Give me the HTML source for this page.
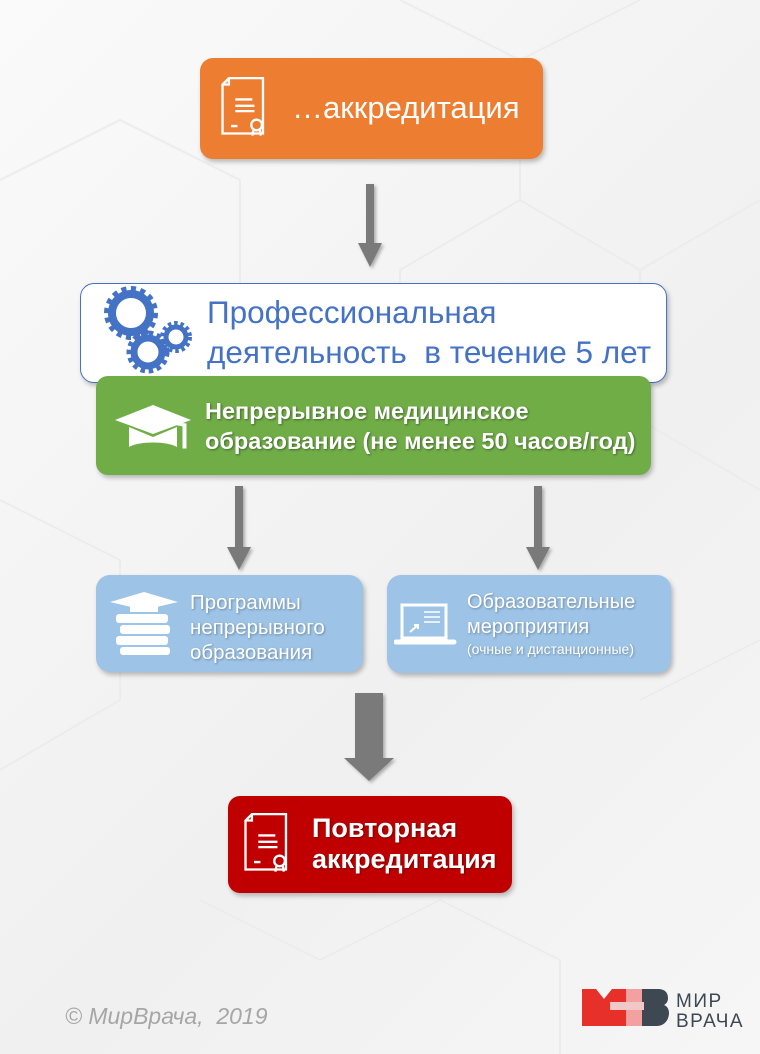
<!DOCTYPE html>
<html><head><meta charset="utf-8"><style>
html,body{margin:0;padding:0}
body{width:760px;height:1054px;position:relative;overflow:hidden;background:linear-gradient(135deg,#fafafa,#f0f0f0 60%,#f6f6f6);font-family:"Liberation Sans",sans-serif}
.box{position:absolute;box-sizing:border-box;box-shadow:2px 3px 5px rgba(0,0,0,.25)}
.t{position:absolute;color:#fff;white-space:nowrap}
</style></head><body>
<svg width="760" height="1054" style="position:absolute;left:0;top:0" fill="none" stroke="#ececec" stroke-width="2">
<path d="M400 0 L520 60 L640 0 M520 60 L520 200 L640 270 L760 200 M520 200 L400 270 L400 400"/>
<path d="M0 180 L120 120 L240 180 L240 300 M0 500 L120 560 L120 700 L0 770 M640 270 L640 420 L760 490 M640 700 L760 640 M200 900 L320 960 L440 900 L560 960 L560 1054"/>
</svg>
<svg width="760" height="1054" style="position:absolute;left:0;top:0">
<defs><filter id="sh"><feDropShadow dx="2" dy="2" stdDeviation="1.5" flood-opacity=".3"/></filter></defs>
<g fill="#7a7a7a" filter="url(#sh)">
<path d="M366 184h8v59h8l-12 24-12-24h8z"/>
<path d="M235 486h8v61h8l-12 23-12-23h8z"/>
<path d="M534 486h8v61h8l-12 23-12-23h8z"/>
<path d="M355 693h28v65h11l-25 23-25-23h11z"/>
</g></svg>

<div class="box" style="left:200px;top:58px;width:343px;height:101px;background:#ed7d31;border-radius:13px"></div>
<svg style="position:absolute;left:219px;top:76px" width="56" height="66" viewBox="0 0 50 62" fill="none" stroke="#fff" stroke-width="2.2">
<path d="M8 2h32v52H2V8z M2 8h6V2"/><path d="M14 22h16M14 28h18M14 33h18M10 47h6"/><circle cx="34" cy="46" r="5"/><path d="M31 51l-1 5M37 51l1 5"/></svg>
<div class="t" style="left:292px;top:90px;font-size:31px">…аккредитация</div>

<div class="box" style="left:80px;top:283px;width:587px;height:100px;background:#fff;border:1px solid #4472c4;border-radius:14px"></div>
<svg style="position:absolute;left:100px;top:286px" width="95" height="95" fill="none" stroke="#4472c4">
<circle cx="31" cy="27" r="19" stroke-width="8"/><circle cx="31" cy="27" r="24" stroke-width="6" stroke-dasharray="5 4.4"/>
<circle cx="48" cy="66" r="14" stroke-width="7"/><circle cx="48" cy="66" r="19" stroke-width="5" stroke-dasharray="4.5 3.7"/>
<circle cx="76" cy="51" r="10" stroke-width="5"/><circle cx="76" cy="51" r="14" stroke-width="4" stroke-dasharray="3.5 2.9"/>
</svg>
<div class="t" style="left:207px;top:292px;font-size:31.5px;color:#4472c4;line-height:40px">Профессиональная<br>деятельность&nbsp; в течение 5 лет</div>

<div class="box" style="left:96px;top:376px;width:555px;height:99px;background:#70ad47;border-radius:12px"></div>
<svg style="position:absolute;left:115px;top:402px" width="80" height="60" fill="#fff">
<path d="M0 18 L38 3 L76 18 L38 32z"/><path d="M14 25v20c10-6 38-6 48 0V25l-24 10z"/><path d="M38 18 L68 24 v22 h3 v-24z" stroke="#fff" stroke-width="1"/></svg>
<div class="t" style="left:205px;top:396px;font-size:23.5px;font-weight:bold;line-height:30px;text-shadow:1px 1px 2px rgba(0,0,0,.4)">Непрерывное медицинское<br>образование (не менее 50 часов/год)</div>

<div class="box" style="left:96px;top:575px;width:267px;height:97px;background:#9dc3e6;border-radius:14px"></div>
<svg style="position:absolute;left:106px;top:590px" width="75" height="66" fill="#fff">
<path d="M4 12 L38 2 L72 12 L38 20z"/><rect x="24" y="14" width="28" height="8"/><rect x="10" y="24" width="52" height="9" rx="3"/><rect x="14" y="35" width="50" height="9" rx="3"/><rect x="10" y="46" width="52" height="9" rx="3"/><rect x="14" y="57" width="50" height="8" rx="3"/></svg>
<div class="t" style="left:190px;top:590px;font-size:20.5px;line-height:25px;text-shadow:1px 1px 2px rgba(0,0,0,.3)">Программы<br>непрерывного<br>образования</div>

<div class="box" style="left:387px;top:575px;width:284px;height:98px;background:#9dc3e6;border-radius:14px"></div>
<svg style="position:absolute;left:394px;top:602px" width="65" height="45" fill="none" stroke="#fff" stroke-width="3">
<rect x="8" y="3" width="44" height="33"/><path d="M2 40h58" stroke-width="5" stroke-linecap="round"/><path d="M30 10h16M30 15h16M30 20h16" stroke-width="1.5"/><path d="M16 30l8-7M20 23h4v4" stroke-width="2"/></svg>
<div class="t" style="left:467px;top:590px;font-size:20px;line-height:25px;text-shadow:1px 1px 2px rgba(0,0,0,.3)">Образовательные<br>мероприятия</div>
<div class="t" style="left:467px;top:641px;font-size:14px;text-shadow:1px 1px 2px rgba(0,0,0,.3)">(очные и дистанционные)</div>

<div class="box" style="left:228px;top:796px;width:284px;height:97px;background:#c00000;border-radius:12px"></div>
<svg style="position:absolute;left:242px;top:812px" width="56" height="66" viewBox="0 0 50 62" fill="none" stroke="#fff" stroke-width="2.2">
<path d="M8 2h32v52H2V8z M2 8h6V2"/><path d="M14 22h16M14 28h18M14 33h18M10 47h6"/><circle cx="34" cy="46" r="5"/><path d="M31 51l-1 5M37 51l1 5"/></svg>
<div class="t" style="left:312px;top:813px;font-size:27px;font-weight:bold;line-height:31px;text-shadow:1px 1px 2px rgba(0,0,0,.4)">Повторная<br>аккредитация</div>

<div class="t" style="left:65px;top:1003px;font-size:23px;font-style:italic;color:#a6a6a6">© МирВрача,&nbsp; 2019</div>

<svg style="position:absolute;left:580px;top:985px" width="175" height="45">
<path d="M2 4h14l8 10 8-10h14v37H2z" fill="#e8302a"/>
<path d="M46 4h16v37H46z" fill="#f3a0a0"/>
<path d="M62 4h16c8 0 10 5 10 9 0 4-2 6-4 7 3 1 5 4 5 8 0 6-4 13-12 13H62z" fill="#3d4852"/>
<rect x="30" y="17" width="34" height="8" fill="#f0c8c8"/>
<text x="96" y="22" font-family="Liberation Sans" font-size="19" fill="#3d4852" letter-spacing="1.5">МИР</text>
<text x="96" y="42" font-family="Liberation Sans" font-size="19" fill="#3d4852" letter-spacing="1.5">ВРАЧА</text>
</svg>
</body></html>
